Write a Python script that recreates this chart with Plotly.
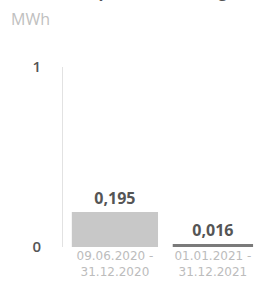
import plotly.graph_objects as go

periods = ["09.06.2020 -<br>31.12.2020", "01.01.2021 -<br>31.12.2021"]
consumption_mwh = [0.195, 0.016]
y_ticks = [0, 1]
y_tick_labels = ["0", "1"]
title_text = "Verbrauch pro Abrechnung"
unit_text = "MWh"

fig = go.Figure()
fig.add_trace(go.Bar(
    x=[0, 1],
    y=consumption_mwh,
    width=[0.88, 0.82],
    marker=dict(color=["#c8c8c8", "#7a7a7a"], line=dict(width=0)),
    texttemplate="<b>%{y:.3f}</b>",
    textposition="outside",
    textfont=dict(family="Open Sans", size=16, color="#555555"),
    cliponaxis=False,
    hoverinfo="skip",
))

fig.update_layout(
    width=256, height=282,
    margin=dict(l=63, r=0, t=67, b=35),
    paper_bgcolor="white", plot_bgcolor="white",
    separators=",.",
    showlegend=False,
    font=dict(family="Open Sans"),
    xaxis=dict(
        range=[-0.53, 1.44],
        tickvals=[0, 1],
        ticktext=periods,
        tickfont=dict(family="DejaVu Sans", size=12, color="#bcbcbc"),
        showgrid=False, zeroline=False, showline=False, ticks="",
        automargin=False,
    ),
    yaxis=dict(
        range=[0, 1],
        tickvals=y_ticks,
        ticktext=y_tick_labels,
        tickfont=dict(family="Open Sans", size=15, color="#555555", weight=600),
        showgrid=False, zeroline=False,
        showline=True, linecolor="#e2e2e2", linewidth=1,
        ticks="inside", ticklen=4, tickcolor="#e2e2e2",
        ticklabelstandoff=18,
        automargin=False,
    ),
    annotations=[
        dict(text=unit_text, xref="paper", yref="paper", x=-0.28, y=1.265,
             xanchor="left", yanchor="middle", showarrow=False,
             font=dict(family="Open Sans", size=16, color="#c0c0c0")),
        dict(text="<b>" + title_text + "</b>", xref="paper", yref="paper", x=-0.28, y=1.352,
             xanchor="left", yanchor="bottom", showarrow=False,
             font=dict(family="Open Sans", size=16, color="#555555")),
    ],
)

fig.write_html(
    "out.html",
    config={"displayModeBar": False, "staticPlot": True},
    post_script="document.body.style.margin='0';document.body.style.overflow='hidden';",
)
